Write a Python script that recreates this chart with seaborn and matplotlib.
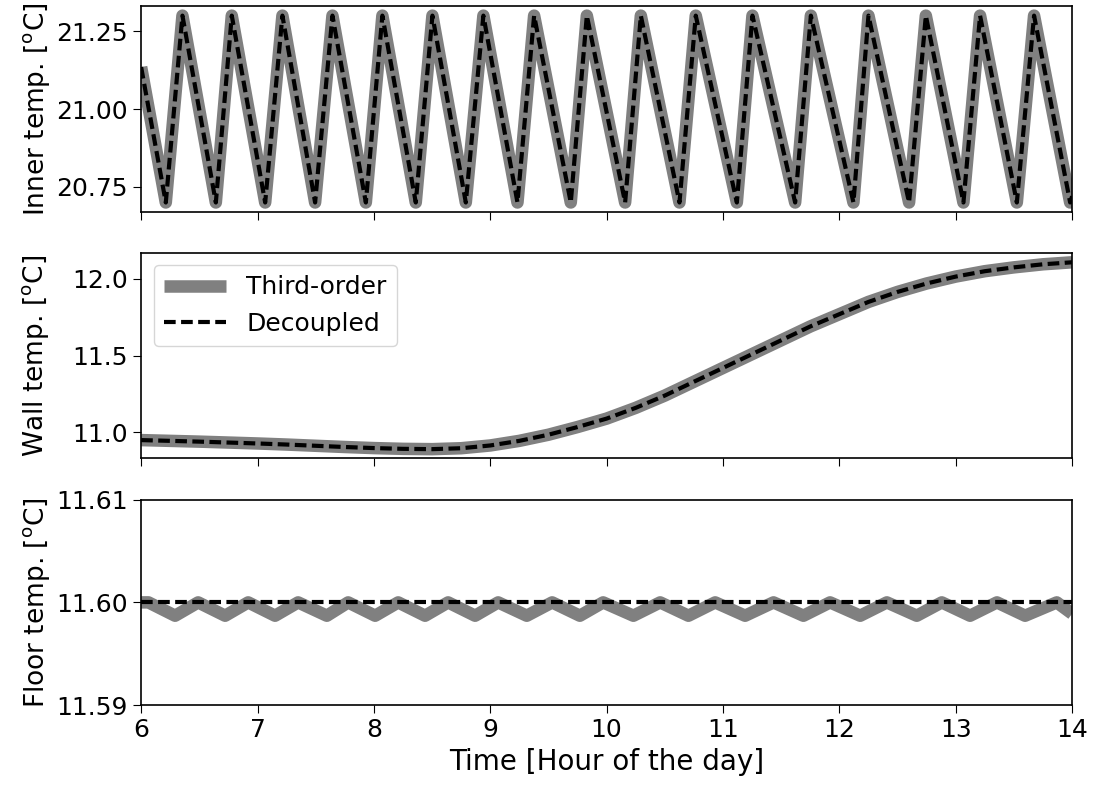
import numpy as np
import pandas as pd
import matplotlib
matplotlib.use("Agg")
import matplotlib.pyplot as plt
import seaborn as sns

# Inner temperature: turning points of the thermostat sawtooth (hour, degC)
inner_hours = [6.000, 6.212, 6.355, 6.642, 6.779, 7.066, 7.214, 7.495, 7.644,
               7.931, 8.073, 8.360, 8.503, 8.790, 8.941, 9.234, 9.377, 9.692,
               9.830, 10.159, 10.294, 10.626, 10.766, 11.119, 11.253, 11.620,
               11.755, 12.121, 12.250, 12.599, 12.743, 13.066, 13.209, 13.525,
               13.673, 13.983, 14.000]
inner_temp = [21.135, 20.70, 21.30, 20.70, 21.30, 20.70, 21.30, 20.70, 21.30,
              20.70, 21.30, 20.70, 21.30, 20.70, 21.30, 20.70, 21.30, 20.70,
              21.30, 20.70, 21.30, 20.70, 21.30, 20.70, 21.30, 20.70,
              21.30, 20.70, 21.30, 20.70, 21.30, 20.70, 21.30, 20.70,
              21.30, 20.70, 20.72]

# Wall temperature
wall_hours = [6.0, 6.25, 6.5, 6.75, 7.0, 7.25, 7.5, 7.75, 8.0, 8.25, 8.5, 8.75,
              9.0, 9.25, 9.5, 9.75, 10.0, 10.25, 10.5, 10.75, 11.0, 11.25, 11.5,
              11.75, 12.0, 12.25, 12.5, 12.75, 13.0, 13.25, 13.5, 13.75, 14.0]
wall_third = [10.950, 10.945, 10.940, 10.934, 10.928, 10.921, 10.913, 10.905,
              10.898, 10.893, 10.891, 10.897, 10.915, 10.945, 10.985, 11.035,
              11.090, 11.160, 11.240, 11.330, 11.420, 11.510, 11.600, 11.690,
              11.770, 11.850, 11.915, 11.970, 12.015, 12.050, 12.075, 12.095,
              12.108]
wall_decoupled = wall_third

# Floor temperature: third-order model wiggles, decoupled model stays flat
floor_hours = [6.000, 6.063, 6.292, 6.490, 6.722, 6.920, 7.151, 7.349, 7.596,
               7.779, 8.011, 8.209, 8.440, 8.638, 8.870, 9.068, 9.314, 9.532,
               9.770, 9.970, 10.230, 10.460, 10.703, 10.933, 11.190, 11.434,
               11.691, 11.920, 12.179, 12.408, 12.665, 12.880, 13.123, 13.354,
               13.596, 13.868, 14.000]
floor_third = [11.6000, 11.6000, 11.5987, 11.6000, 11.5987, 11.6000, 11.5987,
               11.6000, 11.5987, 11.6000, 11.5987, 11.6000, 11.5987, 11.6000,
               11.5987, 11.6000, 11.5987, 11.6000, 11.5987, 11.6000, 11.5987,
               11.6000, 11.5987, 11.6000, 11.5987, 11.6000, 11.5987, 11.6000,
               11.5987, 11.6000, 11.5987, 11.6000, 11.5987, 11.6000, 11.5987,
               11.6000, 11.5989]
floor_hours_dec = [6.0, 14.0]
floor_decoupled = [11.60, 11.60]

sns.set_style("ticks")
plt.rcParams.update({
    "font.family": ["DejaVu Sans"],
    "mathtext.fontset": "dejavusans",
    "font.size": 18,
    "text.color": "black",
    "axes.labelcolor": "black",
    "axes.labelsize": 19,
    "axes.edgecolor": "black",
    "axes.linewidth": 1.2,
    "xtick.color": "black",
    "ytick.color": "black",
    "xtick.labelsize": 18,
    "ytick.labelsize": 18,
    "xtick.major.size": 6,
    "ytick.major.size": 6,
})

fig, axes = plt.subplots(3, 1, figsize=(10.94, 7.87), dpi=100, sharex=True)
fig.subplots_adjust(left=0.129, right=0.98, top=0.992, bottom=0.104, hspace=0.2)

gray_kw = dict(color="gray", linewidth=9, solid_joinstyle="round", solid_capstyle="butt")
dash_kw = dict(color="black", linewidth=3, linestyle=(0, (2.8, 1.3)))

ax = axes[0]
sns.lineplot(x=inner_hours, y=inner_temp, ax=ax, **gray_kw)
sns.lineplot(x=inner_hours, y=inner_temp, ax=ax, **dash_kw)
ax.set_ylabel(r"Inner temp. [$^\mathrm{o}$C]", labelpad=3)
ax.set_yticks([20.75, 21.00, 21.25])
ax.set_yticklabels(["20.75", "21.00", "21.25"])

ax = axes[1]
sns.lineplot(x=wall_hours, y=wall_third, ax=ax, label="Third-order", **gray_kw)
sns.lineplot(x=wall_hours, y=wall_decoupled, ax=ax, label="Decoupled", **dash_kw)
ax.set_ylabel(r"Wall temp. [$^\mathrm{o}$C]")
ax.set_yticks([11.0, 11.5, 12.0])
ax.legend(loc="upper left", fontsize=18, handlelength=2.5)

ax = axes[2]
sns.lineplot(x=floor_hours, y=floor_third, ax=ax, **gray_kw)
sns.lineplot(x=floor_hours_dec, y=floor_decoupled, ax=ax, **dash_kw)
ax.set_ylabel(r"Floor temp. [$^\mathrm{o}$C]", labelpad=3)
ax.set_ylim(11.59, 11.61)
ax.set_yticks([11.59, 11.60, 11.61])
ax.set_yticklabels(["11.59", "11.60", "11.61"])
ax.set_xlim(6, 14)
ax.set_xlabel("Time [Hour of the day]", fontsize=20)

fig.align_ylabels(axes)
fig.savefig("out.png", dpi=100)
